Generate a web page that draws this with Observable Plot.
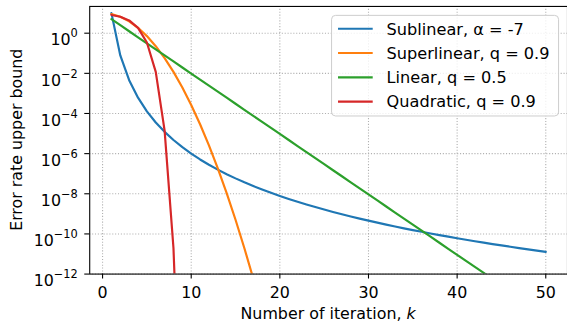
<!DOCTYPE html>
<html><head><meta charset="utf-8">
<script src="https://cdn.jsdelivr.net/npm/d3@7"></script>
<script src="https://cdn.jsdelivr.net/npm/@observablehq/plot@0.6"></script>
<style>
html,body{margin:0;padding:0;overflow:hidden;background:#fff;}
#chart{width:567px;height:326px;overflow:hidden;}
</style>
</head><body><div id="chart"></div>
<script>
// ---- data ----
const iterations = [1,2,3,4,5,6,7,8,9,10,11,12,13,14,15,16,17,18,19,20,21,22,23,24,25,26,27,28,29,30,31,32,33,34,35,36,37,38,39,40,41,42,43,44,45,46,47,48,49,50];
const sublinear = [10, 0.078125, 4.572e-3, 6.104e-4, 1.28e-4, 3.572e-5, 1.214e-5, 4.768e-6, 2.091e-6, 1.0e-6,
  5.132e-7, 2.791e-7, 1.594e-7, 9.487e-8, 5.853e-8, 3.725e-8, 2.437e-8, 1.633e-8, 1.119e-8, 7.813e-9,
  5.552e-9, 4.009e-9, 2.937e-9, 2.180e-9, 1.638e-9, 1.245e-9, 9.560e-10, 7.411e-10, 5.797e-10, 4.572e-10,
  3.635e-10, 2.910e-10, 2.346e-10, 1.904e-10, 1.554e-10, 1.276e-10, 1.053e-10, 8.740e-11, 7.287e-11, 6.104e-11,
  5.135e-11, 4.338e-11, 3.679e-11, 3.132e-11, 2.676e-11, 2.295e-11, 1.974e-11, 1.703e-11, 1.474e-11, 1.280e-11];
const superlinear = [9, 6.561, 3.874, 1.853, 0.7179, 0.2253, 0.05726, 0.01179, 1.966e-3, 2.656e-4,
  2.91e-5, 2.58e-6, 1.85e-7, 1.08e-8, 5.08e-10, 1.94e-11, 5.98e-13, 1.50e-14];
const linear = [5, 2.5, 1.25, 0.625, 0.3125, 0.15625, 0.078125, 0.0390625, 0.01953125, 9.765625e-3,
  4.8828125e-3, 2.44140625e-3, 1.220703e-3, 6.103516e-4, 3.051758e-4, 1.525879e-4, 7.629395e-5, 3.814697e-5, 1.907349e-5, 9.536743e-6,
  4.768372e-6, 2.384186e-6, 1.192093e-6, 5.960464e-7, 2.980232e-7, 1.490116e-7, 7.450581e-8, 3.725290e-8, 1.862645e-8, 9.313226e-9,
  4.656613e-9, 2.328306e-9, 1.164153e-9, 5.820766e-10, 2.910383e-10, 1.455192e-10, 7.275958e-11, 3.637979e-11, 1.818989e-11, 9.094947e-12,
  4.547474e-12, 2.273737e-12, 1.136868e-12, 5.684342e-13, 2.842171e-13];
const quadratic = [8.1, 6.561, 4.305, 1.853, 0.3434, 0.01179, 1.39e-5, 1.94e-11, 3.76e-23];
const seriesNames = ["Sublinear, \u03b1 = -7", "Superlinear, q = 0.9", "Linear, q = 0.5", "Quadratic, q = 0.9"];
const seriesColors = ["#1f77b4", "#ff7f0e", "#2ca02c", "#d62728"];
const xTicks = [0, 10, 20, 30, 40, 50];
const yTicks = [1e0, 1e-2, 1e-4, 1e-6, 1e-8, 1e-10, 1e-12];
const xLabel = "Number of iteration, ";
const xLabelVar = "k";
const yLabel = "Error rate upper bound";

// ---- build table ----
const allSeries = [sublinear, superlinear, linear, quadratic];
const rows = [];
allSeries.forEach((vals, si) => vals.forEach((v, i) => rows.push({k: iterations[i], v, s: seriesNames[si]})));

const FONT = "DejaVu Sans, sans-serif";
const FS = 16;
const plot = Plot.plot({
  width: 572, height: 326,
  marginLeft: 90, marginRight: 0, marginTop: 6, marginBottom: 50,
  style: {fontFamily: FONT, fontSize: FS + "px", color: "#000", background: "transparent", overflow: "visible"},
  x: {domain: [-1.45, 52.45], label: null},
  y: {type: "log", domain: [1e-12, 21.5], label: null},
  color: {domain: seriesNames, range: seriesColors},
  marks: [
    Plot.gridX(xTicks, {stroke: "#b0b0b0", strokeOpacity: 1, strokeWidth: 1.1, strokeDasharray: "1.1,1.8"}),
    Plot.gridY(yTicks, {stroke: "#b0b0b0", strokeOpacity: 1, strokeWidth: 1.1, strokeDasharray: "1.1,1.8"}),
    Plot.line(rows, {x: "k", y: "v", z: "s", stroke: "s", strokeWidth: 2.2, clip: true}),
    Plot.frame({stroke: "#000", strokeWidth: 1.1}),
    Plot.axisX(xTicks, {tickSize: 5, tickPadding: 8, label: null, tickFormat: d => String(d)}),
    Plot.axisY(yTicks, {tickSize: 5, tickPadding: 7, label: null, tickFormat: d => String(Math.round(Math.log10(d)))})
  ]
});
document.getElementById("chart").appendChild(plot);

const svg = d3.select(plot);
// superscript y tick labels
svg.selectAll('g[aria-label="y-axis tick label"] text').each(function() {
  const e = +this.textContent;
  const t = d3.select(this);
  t.text("10").attr("dy", "0.45em");
  t.append("tspan").attr("dy", -8).attr("font-size", "11.5px").text(e < 0 ? "\u2212" + Math.abs(e) : String(e));
});
svg.selectAll('g[aria-label="x-axis tick"] path, g[aria-label="y-axis tick"] path').attr("stroke-width", 1.1);

// axis labels
const xl = svg.append("text").attr("x", 331).attr("y", 322).attr("text-anchor", "middle")
  .attr("font-family", FONT).attr("font-size", FS).attr("fill", "#000");
xl.append("tspan").text(xLabel);
xl.append("tspan").attr("font-style", "italic").text(xLabelVar);
svg.append("text").attr("transform", "translate(22,141) rotate(-90)").attr("text-anchor", "middle")
  .attr("font-family", FONT).attr("font-size", FS).attr("fill", "#000").text(yLabel);

// legend
const lg = svg.append("g").attr("text-anchor", "start");
lg.append("rect").attr("x", 334.5).attr("y", 15.5).attr("width", 229).attr("height", 101.5).attr("rx", 4)
  .attr("fill", "#fff").attr("fill-opacity", 0.8).attr("stroke", "#cccccc").attr("stroke-width", 1);
seriesNames.forEach((name, i) => {
  const cy = 29 + i * 24.5;
  lg.append("line").attr("x1", 341).attr("x2", 376).attr("y1", cy).attr("y2", cy)
    .attr("stroke", seriesColors[i]).attr("stroke-width", 2.2);
  lg.append("text").attr("x", 390).attr("y", cy).attr("dy", "0.36em").attr("text-anchor", "start")
    .attr("font-family", FONT).attr("font-size", 16.3).attr("fill", "#000").text(name);
});
</script>
</body></html>
